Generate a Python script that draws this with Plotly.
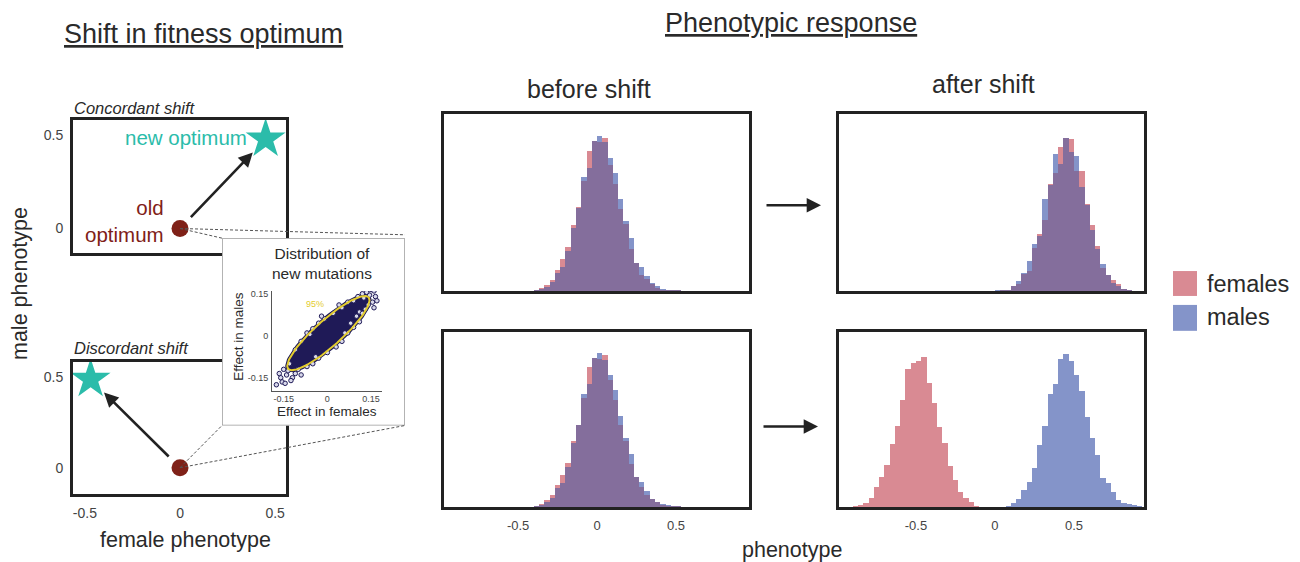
import numpy as np
import plotly.graph_objects as go

W, H = 1300, 562

# ---------------- data ----------------
# optimum positions (female phenotype, male phenotype)
old_optimum = [0.0, 0.0]
concordant_new_optimum = [0.45, 0.48]
discordant_new_optimum = [-0.47, 0.49]

# histogram bins: bin k covers [k*bin_width, (k+1)*bin_width)
bin_width = 1 / 30

before_top_start = -12
before_top_females = [6, 18, 40, 70, 132, 198, 270, 402, 510, 666, 852, 912, 906, 930,
                      768, 648, 498, 408, 258, 174, 102, 78, 42, 18, 9, 6, 6, 4]
before_top_males = [6, 12, 28, 56, 114, 150, 246, 384, 504, 696, 750, 912, 942, 906,
                    810, 720, 558, 426, 324, 174, 150, 96, 48, 30, 12, 8, 6, 4]

after_top_start = 0
after_top_females = [0, 4, 10, 32, 46, 106, 122, 260, 350, 434, 652, 716, 876, 932,
                     926, 730, 730, 532, 404, 272, 140, 100, 70, 44, 12, 8]
after_top_males = [4, 6, 10, 32, 60, 112, 182, 290, 336, 560, 644, 832, 770, 932,
                   842, 820, 632, 522, 374, 256, 164, 100, 52, 30, 12, 3]

before_bottom_start = -12
before_bottom_females = [6, 21, 44, 76, 140, 198, 270, 404, 508, 668, 858, 914, 910, 934,
                         778, 658, 508, 408, 264, 184, 124, 78, 50, 30, 12, 8, 6, 4]
before_bottom_males = [4, 15, 34, 58, 120, 150, 248, 394, 508, 698, 758, 914, 944, 902,
                       810, 720, 558, 428, 328, 184, 156, 100, 50, 30, 18, 12, 8, 6]

after_bottom_females_start = -27
after_bottom_females = [8, 12, 28, 60, 124, 188, 258, 390, 498, 660, 848, 888, 900, 920,
                        764, 640, 492, 396, 254, 168, 92, 60, 32, 10]
after_bottom_males_start = 2
after_bottom_males = [8, 24, 50, 108, 154, 244, 384, 500, 694, 754, 910, 940, 898, 810,
                      714, 554, 424, 320, 178, 150, 94, 44, 28, 22, 14, 8]

# distribution of new mutations (inset): 95% ellipse and scattered mutations
ellipse_center = [0.0035, 0.0095]
ellipse_semi_axes = [0.188, 0.046]
ellipse_angle_deg = 43
mutation_female = [0.150, 0.160, 0.135, 0.165, 0.145, 0.120, 0.155, 0.170, 0.140, 0.125,
                   0.105, 0.090, 0.160, 0.130, 0.110,
                   0.070, 0.050, 0.020, -0.010, -0.030, -0.050, -0.070, -0.090, -0.110, 0.040, -0.020,
                   0.110, 0.090, 0.070, 0.050, 0.030, 0.000, -0.030, -0.050, -0.070, 0.100, 0.120, -0.090,
                   -0.130, -0.150, -0.140, -0.120, -0.160, -0.155, -0.145, -0.175, -0.110, -0.135,
                   -0.125, -0.165, -0.100, 0.060, -0.060, 0.080, -0.040]
mutation_male = [0.165, 0.160, 0.155, 0.140, 0.145, 0.150, 0.120, 0.125, 0.110, 0.135,
                 0.140, 0.125, 0.100, 0.095, 0.085,
                 0.120, 0.100, 0.080, 0.060, 0.045, 0.025, 0.010, -0.020, -0.050, 0.110, 0.070,
                 0.050, 0.030, 0.010, -0.020, -0.040, -0.060, -0.080, -0.100, -0.110, 0.070, 0.080, -0.140,
                 -0.100, -0.120, -0.140, -0.150, -0.150, -0.165, -0.170, -0.175, -0.135, -0.125,
                 -0.160, -0.135, -0.120, 0.010, 0.005, 0.045, -0.075]

# ---------------- style ----------------
FONT = "Liberation Sans, Arial, sans-serif"
TXT = "#2a2a2a"
TICK = "#444444"
PINK = "#d98a93"
BLUE = "#8494c9"
PURPLE = "#846e9c"
DOT = "#7f2118"
TEAL = "#2bbcaa"
NAVY = "#1f1a57"
YELLOW = "#e3cc2e"


def dom_x(x0, x1):
    return [x0 / W, x1 / W]


def dom_y(y0, y1):  # pixel top, pixel bottom
    return [1 - y1 / H, 1 - y0 / H]


def to_paper(domain, rng, v):
    return domain[0] + (v - rng[0]) / (rng[1] - rng[0]) * (domain[1] - domain[0])


fig = go.Figure()

# axis geometry
A_X = dom_x(73, 286); A_Y = dom_y(118, 252)
B_X = dom_x(73, 286); B_Y = dom_y(361, 494)
A_XR = [-0.5625, 0.557]; A_YR = [-0.132, 0.584]
B_XR = [-0.5625, 0.557]; B_YR = [-0.147, 0.587]
HL_X = dom_x(444, 749); HR_X = dom_x(839, 1144)
HT_Y = dom_y(112, 290); HB_Y = dom_y(331, 507)
HL_XR = [-0.969, 0.962]; HR_XR = [-0.987, 0.943]
H_YR = [0, 1075]
IB_X = dom_x(222, 405); IB_Y = dom_y(237, 425)
IS_X = dom_x(272, 382); IS_Y = dom_y(290, 390)
IS_XR = [-0.19, 0.1875]; IS_YR = [-0.196, 0.16]

# ---------------- left panels ----------------
for ax, new in (("", concordant_new_optimum), ("2", discordant_new_optimum)):
    fig.add_trace(go.Scatter(x=[old_optimum[0]], y=[old_optimum[1]], mode="markers",
                             marker=dict(size=17, color=DOT), xaxis="x" + ax, yaxis="y" + ax,
                             hoverinfo="skip"))
    fig.add_trace(go.Scatter(x=[new[0]], y=[new[1]], mode="markers",
                             marker=dict(size=30, color=TEAL, symbol="star"),
                             xaxis="x" + ax, yaxis="y" + ax, hoverinfo="skip"))

# ---------------- histograms ----------------
def add_hist(ax, f_start, females, m_start, males):
    fd = {f_start + k: v for k, v in enumerate(females)}
    md = {m_start + k: v for k, v in enumerate(males)}
    for d, col in ((fd, PINK), (md, BLUE)):
        ks = sorted(d)
        fig.add_trace(go.Bar(x=[(k + 0.5) * bin_width for k in ks], y=[d[k] for k in ks],
                             width=bin_width, marker=dict(color=col, line=dict(width=0)),
                             xaxis="x" + ax, yaxis="y" + ax, hoverinfo="skip"))
    common = sorted(set(fd) & set(md))
    fig.add_trace(go.Bar(x=[(k + 0.5) * bin_width for k in common],
                         y=[min(fd[k], md[k]) for k in common],
                         width=bin_width, marker=dict(color=PURPLE, line=dict(width=0)),
                         xaxis="x" + ax, yaxis="y" + ax, hoverinfo="skip"))


add_hist("3", before_top_start, before_top_females, before_top_start, before_top_males)
add_hist("4", after_top_start, after_top_females, after_top_start, after_top_males)
add_hist("5", before_bottom_start, before_bottom_females, before_bottom_start, before_bottom_males)
add_hist("6", after_bottom_females_start, after_bottom_females,
         after_bottom_males_start, after_bottom_males)

# ---------------- inset ----------------
fig.add_trace(go.Scatter(x=[0, 1, 1, 0, 0], y=[0, 0, 1, 1, 0], mode="lines", fill="toself",
                         fillcolor="white", line=dict(color="#9a9a9a", width=1.5),
                         xaxis="x7", yaxis="y7", hoverinfo="skip"))

t = np.linspace(0, 2 * np.pi, 120)
th = np.deg2rad(ellipse_angle_deg)
a, b = ellipse_semi_axes
ex = ellipse_center[0] + a * np.cos(th) * np.cos(t) - b * np.sin(th) * np.sin(t)
ey = ellipse_center[1] + a * np.sin(th) * np.cos(t) + b * np.cos(th) * np.sin(t)
fig.add_trace(go.Scatter(x=ex, y=ey, mode="lines", fill="toself", fillcolor=NAVY,
                         line=dict(color=NAVY, width=4), xaxis="x8", yaxis="y8", hoverinfo="skip"))
fig.add_trace(go.Scatter(x=mutation_female, y=mutation_male, mode="markers",
                         marker=dict(size=4.5, color="#d8d8ea", line=dict(color=NAVY, width=1)),
                         xaxis="x8", yaxis="y8", hoverinfo="skip"))
fig.add_trace(go.Scatter(x=ex, y=ey, mode="lines", line=dict(color=YELLOW, width=2),
                         xaxis="x8", yaxis="y8", hoverinfo="skip"))

# ---------------- axes ----------------
box = dict(showline=True, mirror=True, linewidth=3, linecolor="#222222", showgrid=False,
           zeroline=False, ticks="", fixedrange=True)
tickf = dict(size=14, color=TICK)
lay = dict(
    xaxis=dict(domain=A_X, range=A_XR, showticklabels=False, anchor="y", **box),
    yaxis=dict(domain=A_Y, range=A_YR, tickvals=[0, 0.5], ticktext=["0", "0.5"],
               tickfont=tickf, anchor="x", ticklabelstandoff=4, **box),
    xaxis2=dict(domain=B_X, range=B_XR, tickvals=[-0.5, 0, 0.5], ticktext=["-0.5", "0", "0.5"],
                tickfont=tickf, anchor="y2", ticklabelstandoff=4, **box),
    yaxis2=dict(domain=B_Y, range=B_YR, tickvals=[0, 0.5], ticktext=["0", "0.5"],
                tickfont=tickf, anchor="x2", ticklabelstandoff=4, **box),
)
htick = dict(size=13, color=TICK)
for n, xd, yd, xr, lab in (("3", HL_X, HT_Y, HL_XR, False), ("4", HR_X, HT_Y, HR_XR, False),
                           ("5", HL_X, HB_Y, HL_XR, True), ("6", HR_X, HB_Y, HR_XR, True)):
    lay["xaxis" + n] = dict(domain=xd, range=xr, anchor="y" + n, showticklabels=lab,
                            tickvals=[-0.5, 0, 0.5], ticktext=["-0.5", "0", "0.5"],
                            tickfont=htick, ticklabelstandoff=4, **box)
    lay["yaxis" + n] = dict(domain=yd, range=H_YR, anchor="x" + n, showticklabels=False, **box)

lay["xaxis7"] = dict(domain=IB_X, range=[0, 1], anchor="y7", visible=False, fixedrange=True)
lay["yaxis7"] = dict(domain=IB_Y, range=[0, 1], anchor="x7", visible=False, fixedrange=True)
small = dict(size=9, color=TICK)
lay["xaxis8"] = dict(domain=IS_X, range=IS_XR, anchor="y8", showline=True, linecolor="#555",
                     linewidth=1, showgrid=False, zeroline=False, ticks="",
                     tickvals=[-0.15, 0, 0.15], ticktext=["-0.15", "0", "0.15"], tickfont=small,
                     ticklabelstandoff=0, fixedrange=True)
lay["yaxis8"] = dict(domain=IS_Y, range=IS_YR, anchor="x8", showline=True, linecolor="#555",
                     linewidth=1, showgrid=False, zeroline=False, ticks="",
                     tickvals=[-0.15, 0, 0.15], ticktext=["-0.15", "0", "0.15"], tickfont=small,
                     ticklabelstandoff=1, fixedrange=True)

# ---------------- annotations ----------------
ann = []


def text(x, y, s, size, color=TXT, xanchor="center", yanchor="middle", angle=0, align="center"):
    ann.append(dict(x=x / W, y=1 - y / H, xref="paper", yref="paper", text=s, showarrow=False,
                    font=dict(size=size, color=color, family=FONT), xanchor=xanchor,
                    yanchor=yanchor, textangle=angle, align=align))


text(203, 32, "<u>Shift in fitness optimum</u>", 27)
text(791, 21, "<u>Phenotypic response</u>", 27)
text(589, 87, "before shift", 25)
text(983, 82, "after shift", 25)
text(20, 283, "male phenotype", 21.5, angle=-90)
text(185, 540, "female phenotype", 21.5)
text(792, 550, "phenotype", 21.5)
text(72, 106, "<i>Concordant shift</i>", 16.5, xanchor="left")
text(72, 347, "<i>Discordant shift</i>", 16.5, xanchor="left")
text(322, 262, "Distribution of<br>new mutations", 15.5)
text(239, 336, "Effect in males", 13.5, angle=-90)
text(327, 411, "Effect in females", 13.5)
text(1205, 283, "females", 23.5, xanchor="left")
text(1205, 316, "males", 23.5, xanchor="left")

# labels in data coordinates
ann.append(dict(x=0.36, y=concordant_new_optimum[1] + 0.01, xref="x", yref="y",
                text="new optimum", showarrow=False, xanchor="right",
                font=dict(size=20.5, color=TEAL, family=FONT)))
ann.append(dict(x=-0.075, y=old_optimum[1] + 0.04, xref="x", yref="y",
                text="old<br>optimum", showarrow=False, xanchor="right", align="right",
                font=dict(size=20.5, color=DOT, family=FONT)))
ann.append(dict(x=-0.005, y=0.112, xref="x8", yref="y8", text="95%", showarrow=False,
                xanchor="right", font=dict(size=9, color=YELLOW, family=FONT)))

# arrows from old to new optimum
for xa, ya, new in (("x", "y", concordant_new_optimum), ("x2", "y2", discordant_new_optimum)):
    tail = [old_optimum[i] + 0.11 * (new[i] - old_optimum[i]) for i in range(2)]
    head = [old_optimum[i] + 0.85 * (new[i] - old_optimum[i]) for i in range(2)]
    ann.append(dict(x=head[0], y=head[1], ax=tail[0], ay=tail[1], xref=xa, yref=ya,
                    axref=xa, ayref=ya, text="", showarrow=True, arrowhead=2, arrowsize=1.1,
                    arrowwidth=2.6, arrowcolor="#222222", standoff=0, startstandoff=0))

# arrows between histogram panels
for y, x1 in ((204, 821), (426, 818)):
    ann.append(dict(x=x1 / W, y=1 - y / H, xref="paper", yref="paper", ax=-56, ay=0,
                    text="", showarrow=True, arrowhead=2, arrowsize=1.1, arrowwidth=2.6,
                    arrowcolor="#222222", standoff=0))

# ---------------- shapes: dashed zoom lines, legend keys ----------------
shapes = []
pa = (to_paper(A_X, A_XR, old_optimum[0]), to_paper(A_Y, A_YR, old_optimum[1]))
pb = (to_paper(B_X, B_XR, old_optimum[0]), to_paper(B_Y, B_YR, old_optimum[1]))
dash = dict(color="#555555", width=1, dash="3px,2px")
for p0, corner in ((pa, (IB_X[0], IB_Y[1])), (pa, (IB_X[1], IB_Y[1] + 0.006)),
                   (pb, (IB_X[0], IB_Y[0])), (pb, (IB_X[1], IB_Y[0]))):
    shapes.append(dict(type="line", xref="paper", yref="paper", x0=p0[0], y0=p0[1],
                       x1=corner[0], y1=corner[1], line=dash, layer="above"))
for y0, y1, col in ((270, 295, PINK), (304, 330, BLUE)):
    shapes.append(dict(type="rect", xref="paper", yref="paper", x0=1173 / W, x1=1197 / W,
                       y0=1 - y1 / H, y1=1 - y0 / H, fillcolor=col, line=dict(width=0)))

fig.update_layout(
    width=W, height=H, margin=dict(l=0, r=0, t=0, b=0), showlegend=False,
    paper_bgcolor="white", plot_bgcolor="white", barmode="overlay", bargap=0,
    font=dict(family=FONT, color=TXT), annotations=ann, shapes=shapes, **lay,
)

fig.write_html("out.html", config={"displayModeBar": False},
               post_script="document.body.style.margin='0';"
                           "document.body.style.overflow='hidden';")
